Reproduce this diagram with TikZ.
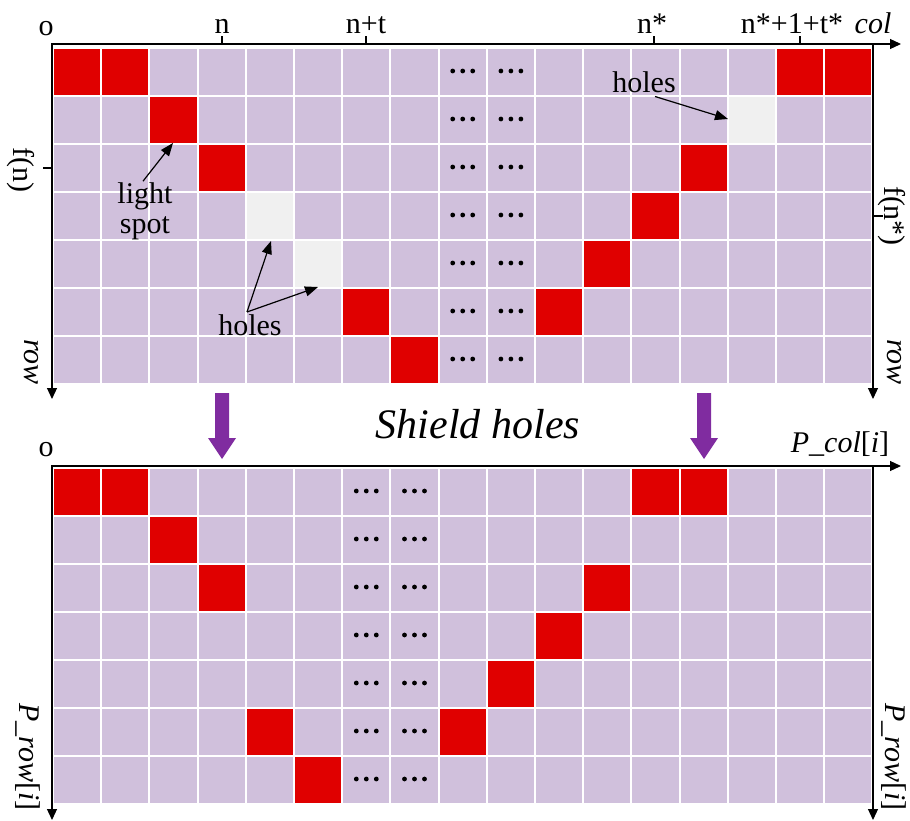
\documentclass[tikz,border=0pt]{standalone}
\usepackage{fontspec}
\setmainfont{Liberation Serif}
\usetikzlibrary{arrows.meta}
\definecolor{lilac}{RGB}{208,192,220}
\definecolor{spotred}{RGB}{224,0,0}
\definecolor{holegray}{RGB}{240,240,240}
\definecolor{purp}{RGB}{128,44,160}
\newcommand{\gcell}[4]{\fill[#4] ({54+48.2*#1},{#3+48*#2+1}) rectangle ++(46.2,46);}
\newcommand{\gdots}[3]{\foreach \k in {-10,0,10}{\fill ({54+48.2*#1+23.1+\k},{#3+48*#2+23}) circle (2.4pt);}}
\begin{document}
\begin{tikzpicture}[x=1pt,y=-1pt,
  lbl/.style={font=\fontsize{30}{30}\selectfont, inner sep=0pt},
  axis/.style={line width=1.2pt, black},
  axtip/.style={{Triangle[length=11pt,width=10pt]}-{Triangle[length=11pt,width=10pt]}},
  axtipend/.style={-{Triangle[length=11pt,width=10pt]}},
  annarrow/.style={line width=1.2pt, -{Triangle[length=13pt,width=10pt]}},
  tick/.style={line width=1.2pt},
  bigarrow/.style={fill=purp}]
\useasboundingbox (0,0) rectangle (910,821);
% ---------- top grid ----------
\foreach \i in {0,...,16}{\foreach \j in {0,...,6}{\gcell{\i}{\j}{48}{lilac}}}
\foreach \i/\j in {0/0,1/0,15/0,16/0,2/1,3/2,13/2,12/3,11/4,6/5,10/5,7/6}{\gcell{\i}{\j}{48}{spotred}}
\foreach \i/\j in {14/1,4/3,5/4}{\gcell{\i}{\j}{48}{holegray}}
\foreach \j in {0,...,6}{\gdots{8}{\j}{48}\gdots{9}{\j}{48}}
% axes top
\draw[axis,axtip] (52,399) -- (52,44) -- (901,44);
\draw[axis,axtipend] (873,44) -- (873,399);
\draw[tick] (222,44) -- (222,36);
\draw[tick] (366,44) -- (366,36);
\draw[tick] (654,44) -- (654,36);
\draw[tick] (800,44) -- (800,36);
\draw[tick] (52,168) -- (43,168);
\draw[tick] (873,216) -- (883,216);
\node[lbl,anchor=base] (o1) at (46,36) {o};
\node[lbl,anchor=base] (ln) at (222,34) {n};
\node[lbl,anchor=base] (lnt) at (366,34) {n+t};
\node[lbl,anchor=base] (lns) at (652,34) {n*};
\node[lbl,anchor=base] (lnst) at (792,34) {n*+1+t*};
\node[lbl,anchor=base] (lcol) at (873,34) {\itshape col};
\node[lbl,rotate=-90] (lfn) at (21,170) {f(n)};
\node[lbl,rotate=-90] (lfns) at (892,216) {f(n*)};
\node[lbl,rotate=-90] (lrow1) at (31,362) {\itshape row};
\node[lbl,rotate=-90] (lrow2) at (894,362) {\itshape row};
% annotations
\node[lbl,align=center] (ls) at (145,211) {light\\spot};
\coordinate (lstip) at (173,143);
\draw[annarrow] ([xshift=-2pt,yshift=1pt]ls.north) -- (lstip);
\node[lbl,anchor=base] (hl) at (250,335) {holes};
\coordinate (hltipa) at (271,241);
\coordinate (hltipb) at (318,287);
\draw[annarrow] ([xshift=-3pt,yshift=2pt]hl.north) -- (hltipa);
\draw[annarrow] ([xshift=-3pt,yshift=2pt]hl.north) -- (hltipb);
\node[lbl,anchor=base] (hu) at (644,93) {holes};
\coordinate (hutip) at (728,119);
\draw[annarrow] ([xshift=11pt,yshift=-3pt]hu.south) -- (hutip);
% ---------- middle ----------
\fill[bigarrow] (215,393) -- (229,393) -- (229,438) -- (236,438) -- (222,459) -- (208,438) -- (215,438) -- cycle;
\fill[bigarrow] (697,393) -- (711,393) -- (711,438) -- (718,438) -- (704,459) -- (690,438) -- (697,438) -- cycle;
\node[inner sep=0pt,font=\fontsize{42}{50}\selectfont\itshape,anchor=base] (shield) at (478,438) {Shield holes};
% ---------- bottom grid ----------
\foreach \i in {0,...,16}{\foreach \j in {0,...,6}{\gcell{\i}{\j}{468}{lilac}}}
\foreach \i/\j in {0/0,1/0,12/0,13/0,2/1,3/2,11/2,10/3,9/4,4/5,8/5,5/6}{\gcell{\i}{\j}{468}{spotred}}
\foreach \j in {0,...,6}{\gdots{6}{\j}{468}\gdots{7}{\j}{468}}
\draw[axis,axtip] (52,820) -- (52,466) -- (901,466);
\draw[axis,axtipend] (873,466) -- (873,820);
\node[lbl,anchor=base] (o2) at (46,456) {o};
\node[lbl,anchor=base] (pcol) at (840,452) {\itshape P\_col\/\upshape[\itshape i\/\upshape]};
\node[lbl,rotate=-90] (prow1) at (28,757) {\itshape P\_row\/\upshape[\itshape i\/\upshape]};
\node[lbl,rotate=-90] (prow2) at (894,757) {\itshape P\_row\/\upshape[\itshape i\/\upshape]};
\end{tikzpicture}
\end{document}
